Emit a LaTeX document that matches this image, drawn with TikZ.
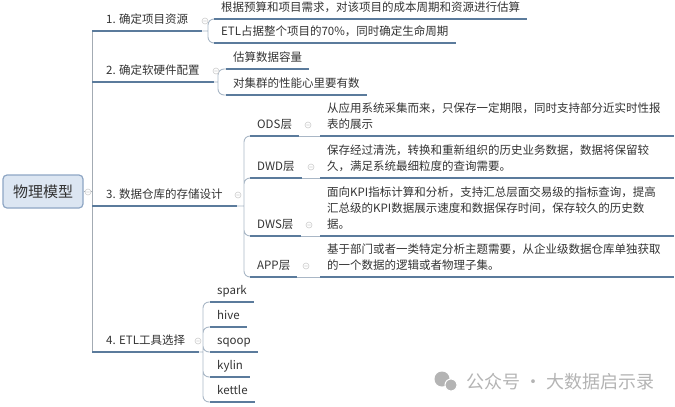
\documentclass[tikz,border=0pt]{standalone}
\usepackage{fontspec}
\setmainfont{Noto Sans CJK SC}
\definecolor{tc}{HTML}{333333}
\definecolor{ulc}{HTML}{5B7B9C}
\definecolor{cc}{HTML}{A9B7C6}
\definecolor{trc}{HTML}{A3ABB3}
\definecolor{rf}{HTML}{DCE6F2}
\definecolor{rd}{HTML}{8EA6C4}
\definecolor{mc}{HTML}{CDCDCD}
\definecolor{wm}{HTML}{B4B4B4}
\begin{document}
\begin{tikzpicture}[x=1pt,y=-1pt,
 txt/.style={anchor=south west,align=left,text=tc,font=\fontsize{11.5}{16}\selectfont,inner xsep=7pt,inner ysep=2.5pt,execute at begin node=\strut,execute at end node=\strut},
 lone/.style={txt,inner xsep=14pt},
 desc/.style={txt,text width=340pt},
 rootbox/.style={draw=rd,fill=rf,line width=1.2pt,rounded corners=4pt,minimum width=80pt,minimum height=33pt,inner sep=0pt,text=tc,font=\fontsize{15}{18}\selectfont},
 uline/.style={draw=ulc,line width=1.6pt},
 conn/.style={draw=cc,line width=0.9pt,rounded corners=6pt},
 trunk/.style={draw=trc,line width=0.8pt},
 fold/.style={draw=mc,fill=white,line width=0.6pt}]
\useasboundingbox (0,0) rectangle (675,407);
\node[rootbox] (root) at (43,191.5) {物理模型};
% first level
\foreach \n/\y/\t in {one/31/1. 确定项目资源,two/82/2. 确定软硬件配置,three/206/3. 数据仓库的存储设计,four/352/4. ETL工具选择}
 \node[lone] (\n) at (92,\y) {\t};
\coordinate (j1) at (208,31);
\coordinate (j2) at (218,82);
\coordinate (j3) at (244,206);
\coordinate (j4) at (203,352);
% second level
\node[txt] (one-a) at (214,19) {根据预算和项目需求，对该项目的成本周期和资源进行估算};
\node[txt] (one-b) at (214,43) {ETL占据整个项目的70\%，同时确定生命周期};
\node[txt] (two-a) at (226,69) {估算数据容量};
\node[txt] (two-b) at (226,95) {对集群的性能心里要有数};
\foreach \n/\y/\t in {ods/136/ODS层,dwd/178/DWD层,dws/236/DWS层,app/277/APP层}
 \node[txt] (\n) at (250,\y) {\t};
\foreach \t [count=\i] in {spark,hive,sqoop,kylin,kettle}
 \node[txt] (tool\i) at (210,{277+25*\i}) {\t};
% layer notes
\node[desc] (ods-d) at (320,136) {从应用系统采集而来，只保存一定期限，同时支持部分近实时性报\\表的展示};
\node[desc] (dwd-d) at (320,178) {保存经过清洗，转换和重新组织的历史业务数据，数据将保留较\\久，满足系统最细粒度的查询需要。};
\node[desc] (dws-d) at (320,236) {面向KPI指标计算和分析，支持汇总层面交易级的指标查询，提高\\汇总级的KPI数据展示速度和数据保存时间，保存较久的历史数\\据。};
\node[desc] (app-d) at (320,277) {基于部门或者一类特定分析主题需要，从企业级数据仓库单独获取\\的一个数据的逻辑或者物理子集。};
% connectors
\draw[trunk] (one.south west) -- (four.south west) (root.east) -- (root.east -| one.south west);
\draw[conn] (one.south east) -- (j1) foreach \c in {one-a,one-b} {(j1) |- (\c.south west)};
\draw[conn] (two.south east) -- (j2) foreach \c in {two-a,two-b} {(j2) |- (\c.south west)};
\draw[conn] (three.south east) -- (j3) foreach \c in {ods,dwd,dws,app} {(j3) |- (\c.south west)};
\draw[conn] (four.south east) -- (j4) foreach \i in {1,...,5} {(j4) |- (tool\i.south west)};
\draw[conn] foreach \c in {ods,dwd,dws,app} {(\c.south east) -- (\c-d.south west)};
\draw[uline] foreach \n in {one,two,three,four,one-a,one-b,two-a,two-b,ods,dwd,dws,app,ods-d,dwd-d,dws-d,app-d,tool1,tool2,tool3,tool4,tool5} {(\n.south west) -- (\n.south east)};
% fold marks
\foreach \p in {(88,192),(205,21),(216,71),(238,195),(198,341),(308,125),(311,167),(309,225),(306,266)}
 \draw[fold] \p circle (3) \p ++(-1.6,0) -- ++(3.2,0);
% watermark
\fill[wm] (442,379) circle (7.5);
\filldraw[fill=wm,draw=white,line width=1pt] (451,385) circle (6);
\node[text=wm,font=\fontsize{18}{20}\selectfont,anchor=west] (mark) at (463,382) {公众号 · 大数据启示录};
\end{tikzpicture}
\end{document}
